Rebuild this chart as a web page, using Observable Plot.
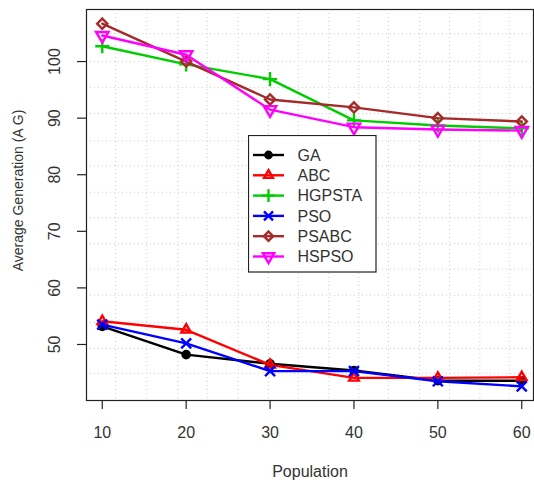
<!DOCTYPE html>
<html><head><meta charset="utf-8">
<script src="https://cdn.jsdelivr.net/npm/d3@7"></script>
<script src="https://cdn.jsdelivr.net/npm/@observablehq/plot@0.6"></script>
<style>
body{margin:0;background:#fff;font-family:"Liberation Sans",Arial,sans-serif}
#wrap{position:relative;width:534px;height:483px}
#legend{position:absolute;left:248px;top:135px}
</style></head><body><div id="wrap"></div>
<script>
const population = [10, 20, 30, 40, 50, 60];
const seriesNames = ["GA", "ABC", "HGPSTA", "PSO", "PSABC", "HSPSO"];
const GA     = [53.2, 48.2, 46.6, 45.4, 43.6, 43.6];
const ABC    = [54.1, 52.6, 46.4, 44.1, 44.1, 44.2];
const HGPSTA = [102.7, 99.5, 96.9, 89.6, 88.7, 88.2];
const PSO    = [53.5, 50.2, 45.3, 45.3, 43.5, 42.6];
const PSABC  = [106.7, 100.0, 93.3, 91.9, 90.0, 89.4];
const HSPSO  = [104.6, 101.2, 91.5, 88.4, 88.0, 87.8];
const xTicks = [10, 20, 30, 40, 50, 60];
const yTicks = [50, 60, 70, 80, 90, 100];
const xGrid = [11.6, 15.3, 19.0, 22.5, 26.2, 29.8, 33.4, 37.0, 40.6, 44.1, 47.8, 51.4, 55.0, 58.5];
const yGrid = [44.9, 49.3, 53.9, 58.7, 63.3, 67.8, 72.4, 76.9, 81.6, 86.0, 90.8, 95.4, 100.0, 104.9];
const xLabel = "Population";
const yLabel = "Average Generation (A G)";

const sqrt3 = Math.sqrt(3);
const triangleDown = {
  draw(context, size) {
    const y = -Math.sqrt(size / (sqrt3 * 3));
    context.moveTo(0, -y * 2);
    context.lineTo(-sqrt3 * y, y);
    context.lineTo(sqrt3 * y, y);
    context.closePath();
  }
};
const styles = {
  GA:     {color: "#000000", symbol: d3.symbolCircle, fill: true},
  ABC:    {color: "#ff0000", symbol: d3.symbolTriangle2, fill: false},
  HGPSTA: {color: "#00cd00", symbol: d3.symbolPlus, fill: false},
  PSO:    {color: "#0000ff", symbol: d3.symbolTimes, fill: false},
  PSABC:  {color: "#a52a2a", symbol: d3.symbolDiamond2, fill: false},
  HSPSO:  {color: "#ff00ff", symbol: triangleDown, fill: false}
};
const values = {GA, ABC, HGPSTA, PSO, PSABC, HSPSO};
const R = 4.6, LW = 2.4;

const marks = [
  Plot.ruleX(xGrid, {stroke: "#cccccc", strokeDasharray: "1,3", strokeWidth: 1}),
  Plot.ruleY(yGrid, {stroke: "#cccccc", strokeDasharray: "1,3", strokeWidth: 1}),
];
for (const name of seriesNames) {
  const s = styles[name];
  const data = population.map((p, i) => ({x: p, y: values[name][i]}));
  marks.push(Plot.line(data, {x: "x", y: "y", stroke: s.color, strokeWidth: LW}));
  marks.push(Plot.dot(data, {x: "x", y: "y", symbol: s.symbol, r: name === "GA" ? 3.6 : R,
    stroke: s.color, strokeWidth: LW, fill: s.fill ? s.color : "none"}));
}
marks.push(
  Plot.frame({stroke: "#222", strokeWidth: 1.2}),
  Plot.axisX(xTicks, {tickSize: 9, tickPadding: 17, fontSize: 16, color: "#333", stroke: "#222", strokeWidth: 1.2, label: null}),
  Plot.axisY(yTicks, {tickSize: 9, tickPadding: 18, tickRotate: -90, fontSize: 16, color: "#333", stroke: "#222", strokeWidth: 1.2, label: null}),
  Plot.text([xLabel], {frameAnchor: "bottom", dy: 71.5, text: d => d, fontSize: 16, fill: "#333", lineAnchor: "middle"}),
  Plot.text([yLabel], {frameAnchor: "left", dx: -68, dy: -14.5, rotate: -90, text: d => d, fontSize: 14, fill: "#333", lineAnchor: "middle", textAnchor: "middle"})
);

const chart = Plot.plot({
  width: 534, height: 483,
  marginLeft: 86, marginRight: 1, marginTop: 9, marginBottom: 83,
  style: {fontFamily: "'Liberation Sans', Arial, sans-serif", background: "#fff"},
  x: {domain: [8.12, 61.4]},
  y: {domain: [40.1, 109.2]},
  marks
});
document.getElementById("wrap").appendChild(chart);

// legend
const lg = d3.select("#wrap").append("svg").attr("id", "legend")
  .attr("width", 129).attr("height", 138);
lg.append("rect").attr("x", 0.5).attr("y", 0.5).attr("width", 127.5).attr("height", 136.5)
  .attr("fill", "#fff").attr("stroke", "#222").attr("stroke-width", 1.2);
seriesNames.forEach((name, i) => {
  const s = styles[name];
  const y = 20 + i * 20.3;
  const g = lg.append("g");
  g.append("line").attr("x1", 5).attr("x2", 36).attr("y1", y).attr("y2", y)
    .attr("stroke", s.color).attr("stroke-width", LW);
  const r = name === "GA" ? 3.2 : 4.2;
  g.append("path").attr("transform", `translate(20.5,${y})`)
    .attr("d", d3.symbol(s.symbol, r * r * Math.PI)())
    .attr("stroke", s.color).attr("stroke-width", LW).attr("fill", s.fill ? s.color : "none");
  g.append("text").attr("x", 49.5).attr("y", y).attr("dy", "0.35em")
    .attr("font-size", 16).attr("fill", "#333")
    .attr("font-family", "'Liberation Sans', Arial, sans-serif").text(name);
});
</script></body></html>
